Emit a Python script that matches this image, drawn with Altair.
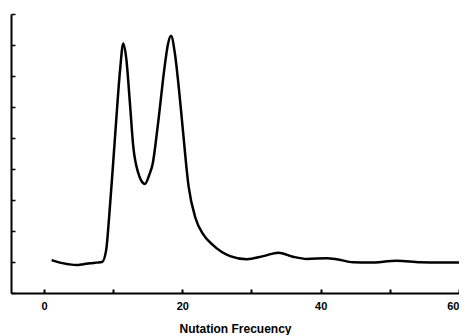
import altair as alt
import pandas as pd

freq = [1.1, 2.3, 3.5, 4.7, 5.7, 6.65, 7.6, 8.4, 9.0, 9.4, 10.0, 10.45, 11.0,
        11.46, 11.9, 12.43, 12.91, 13.63, 14.0, 14.6, 15.2, 15.7, 16.4, 17.5,
        17.9, 18.36, 18.94, 19.5, 20.0, 20.9, 21.9, 23.0, 24.4, 26.9, 29.3,
        31.7, 33.9, 36.0, 38.0, 40.9, 42.3, 44.7, 47.1, 51.0, 54.4, 57.2, 60.0]
amp = [1.06, 0.98, 0.93, 0.90, 0.93, 0.96, 0.98, 1.00, 1.40, 2.40, 4.20, 5.60, 7.20,
       8.05, 7.55, 6.10, 4.72, 3.87, 3.65, 3.52, 3.80, 4.15, 5.30, 7.40,
       8.00, 8.30, 7.70, 6.60, 5.45, 3.45, 2.42, 1.90, 1.55, 1.19, 1.09,
       1.19, 1.30, 1.17, 1.10, 1.12, 1.09, 0.99, 0.98, 1.04, 0.99, 0.98, 0.98]

x_ticks = [0, 10, 20, 30, 40, 50, 60]
x_labels = [0, 20, 40, 60]
y_ticks = [0, 1, 2, 3, 4, 5, 6, 7, 8, 9]

df = pd.DataFrame({"f": freq, "a": amp})

W, H = 448, 279
xscale = alt.Scale(domain=[-4.77, 60], nice=False, zero=False)
yscale = alt.Scale(domain=[0, 9], nice=False, zero=False)

base = alt.Chart(df)

main = base.mark_line(color="black", strokeWidth=2.5, interpolate="monotone").encode(
    x=alt.X("f:Q", scale=xscale, axis=alt.Axis(
        orient="bottom", values=x_labels, ticks=False, tickSize=0, grid=False,
        domain=True, domainColor="black", domainWidth=2,
        labelFont="Liberation Sans", labelFontWeight="bold", labelFontSize=11,
        labelColor="black", labelPadding=7, labelBound=False, labelOverlap=False,
        labelFlush=True,
        title="Nutation Frecuency", titleFont="Liberation Sans", titleFontWeight="bold",
        titleFontSize=12, titleColor="black", titlePadding=12)),
    y=alt.Y("a:Q", scale=yscale, axis=alt.Axis(
        orient="left", ticks=False, labels=False, grid=False, title=None,
        domain=True, domainColor="black", domainWidth=2)),
)

ticks_layer = base.mark_line(strokeOpacity=0).encode(
    x=alt.X("f:Q", scale=xscale, axis=alt.Axis(
        orient="top", offset=-H, values=x_ticks, labels=False, domain=False,
        grid=False, title=None, ticks=True, tickSize=4, tickWidth=2, tickColor="black")),
    y=alt.Y("a:Q", scale=yscale, axis=alt.Axis(
        orient="right", offset=-W, values=y_ticks, labels=False, domain=False,
        grid=False, title=None, ticks=True, tickSize=4, tickWidth=1.5, tickColor="black")),
)

chart = alt.layer(main, ticks_layer).resolve_axis(x="independent", y="independent").properties(
    width=W, height=H,
    background="white",
    autosize=alt.AutoSizeParams(type="none"),
    padding={"left": 3, "top": 6, "right": 0, "bottom": 42},
).configure_view(stroke=None)

chart.save("out.html", embed_options={"renderer": "svg", "actions": False})
